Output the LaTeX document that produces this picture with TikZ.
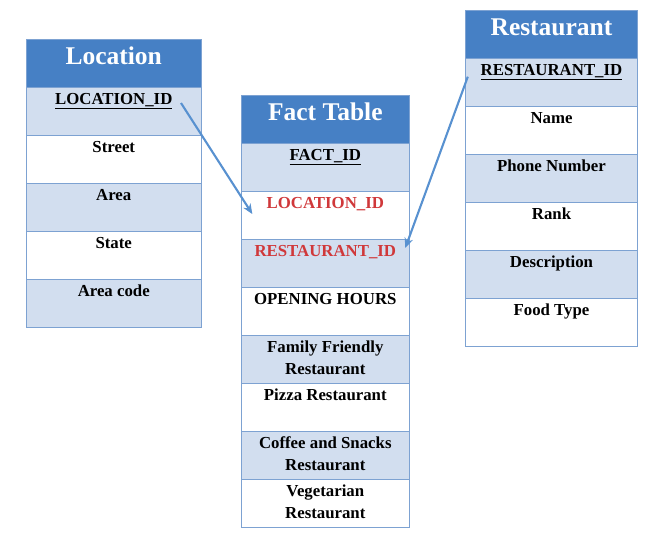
\documentclass[tikz,border=0pt]{standalone}
\usepackage{fontspec}
\setmainfont{Liberation Serif}
\usetikzlibrary{arrows.meta,calc}
\definecolor{hdrblue}{RGB}{70,128,197}
\definecolor{lightrow}{RGB}{210,222,239}
\definecolor{bordercol}{RGB}{125,162,210}
\definecolor{keyred}{RGB}{208,56,58}
\definecolor{arrowblue}{RGB}{88,145,208}
\tikzset{
  cellbox/.style={draw=bordercol, line width=0.9pt, rectangle, inner sep=0pt, outer sep=0pt, anchor=north west, minimum height=48pt},
  hdr/.style={cellbox, fill=hdrblue, label={[anchor=base, yshift=-25pt, text=white, font=\fontsize{25.5}{28}\selectfont\bfseries, inner sep=0pt]north:#1}},
  lrow/.style={cellbox, fill=lightrow},
  wrow/.style={cellbox, fill=white},
  txt/.style={label={[anchor=base, yshift=-17pt, align=center, font=\fontsize{16.8}{22}\selectfont\bfseries, inner sep=0pt]north:#1}},
  txttwo/.style={label={[anchor=base, yshift=-39pt, align=center, font=\fontsize{16.8}{22}\selectfont\bfseries, inner sep=0pt]north:#1}},
  rtxt/.style={label={[anchor=base, yshift=-17pt, align=center, text=keyred, font=\fontsize{16.8}{22}\selectfont\bfseries, inner sep=0pt]north:#1}},
  fk/.style={draw=arrowblue, line width=2.1pt, -{Stealth[length=10pt,width=8.5pt]}}
}
\begin{document}
\begin{tikzpicture}[x=1pt,y=-1pt]
\useasboundingbox (0,0) rectangle (661,546);
% Location table
\begin{scope}[every node/.append style={minimum width=175.5pt}]
\node[hdr=Location, minimum height=47.5pt] (loch) at (26,39.5) {};
\node[lrow, txt={\underline{LOCATION\_ID}}] (loc1) at (26,87) {};
\node[wrow, txt=Street] (loc2) at (26,135) {};
\node[lrow, txt=Area] (loc3) at (26,183) {};
\node[wrow, txt=State] (loc4) at (26,231) {};
\node[lrow, txt=Area code] (loc5) at (26,279) {};
\end{scope}
% Fact table
\begin{scope}[every node/.append style={minimum width=168pt}]
\node[hdr=Fact Table] (facth) at (241.3,95) {};
\node[lrow, txt={\underline{FACT\_ID}}] (fact1) at (241.3,143) {};
\node[wrow, rtxt={LOCATION\_ID}] (fact2) at (241.3,191) {};
\node[lrow, rtxt={RESTAURANT\_ID}] (fact3) at (241.3,239) {};
\node[wrow, txt={OPENING HOURS}] (fact4) at (241.3,287) {};
\node[lrow, txttwo={Family Friendly\\Restaurant}] (fact5) at (241.3,335) {};
\node[wrow, txt={Pizza Restaurant}] (fact6) at (241.3,383) {};
\node[lrow, txttwo={Coffee and Snacks\\Restaurant}] (fact7) at (241.3,431) {};
\node[wrow, txttwo={Vegetarian\\Restaurant}] (fact8) at (241.3,479) {};
\end{scope}
% Restaurant table
\begin{scope}[every node/.append style={minimum width=172.4pt}]
\node[hdr=Restaurant] (resh) at (465.3,10) {};
\node[lrow, txt={\underline{RESTAURANT\_ID}}] (res1) at (465.3,58) {};
\node[wrow, txt=Name] (res2) at (465.3,106) {};
\node[lrow, txt={Phone Number}] (res3) at (465.3,154) {};
\node[wrow, txt=Rank] (res4) at (465.3,202) {};
\node[lrow, txt=Description] (res5) at (465.3,250) {};
\node[wrow, txt={Food Type}] (res6) at (465.3,298) {};
\end{scope}
% connectors
\coordinate (a1s) at ($(loc1.north west)+(155,16)$);
\coordinate (a1e) at ($(fact2.north west)+(11,23)$);
\coordinate (a2s) at ($(res1.north west)+(2.5,18.7)$);
\coordinate (a2e) at ($(fact3.north east)+(-4,9)$);
\draw[fk] (a1s) -- (a1e);
\draw[fk] (a2s) -- (a2e);
\end{tikzpicture}
\end{document}
